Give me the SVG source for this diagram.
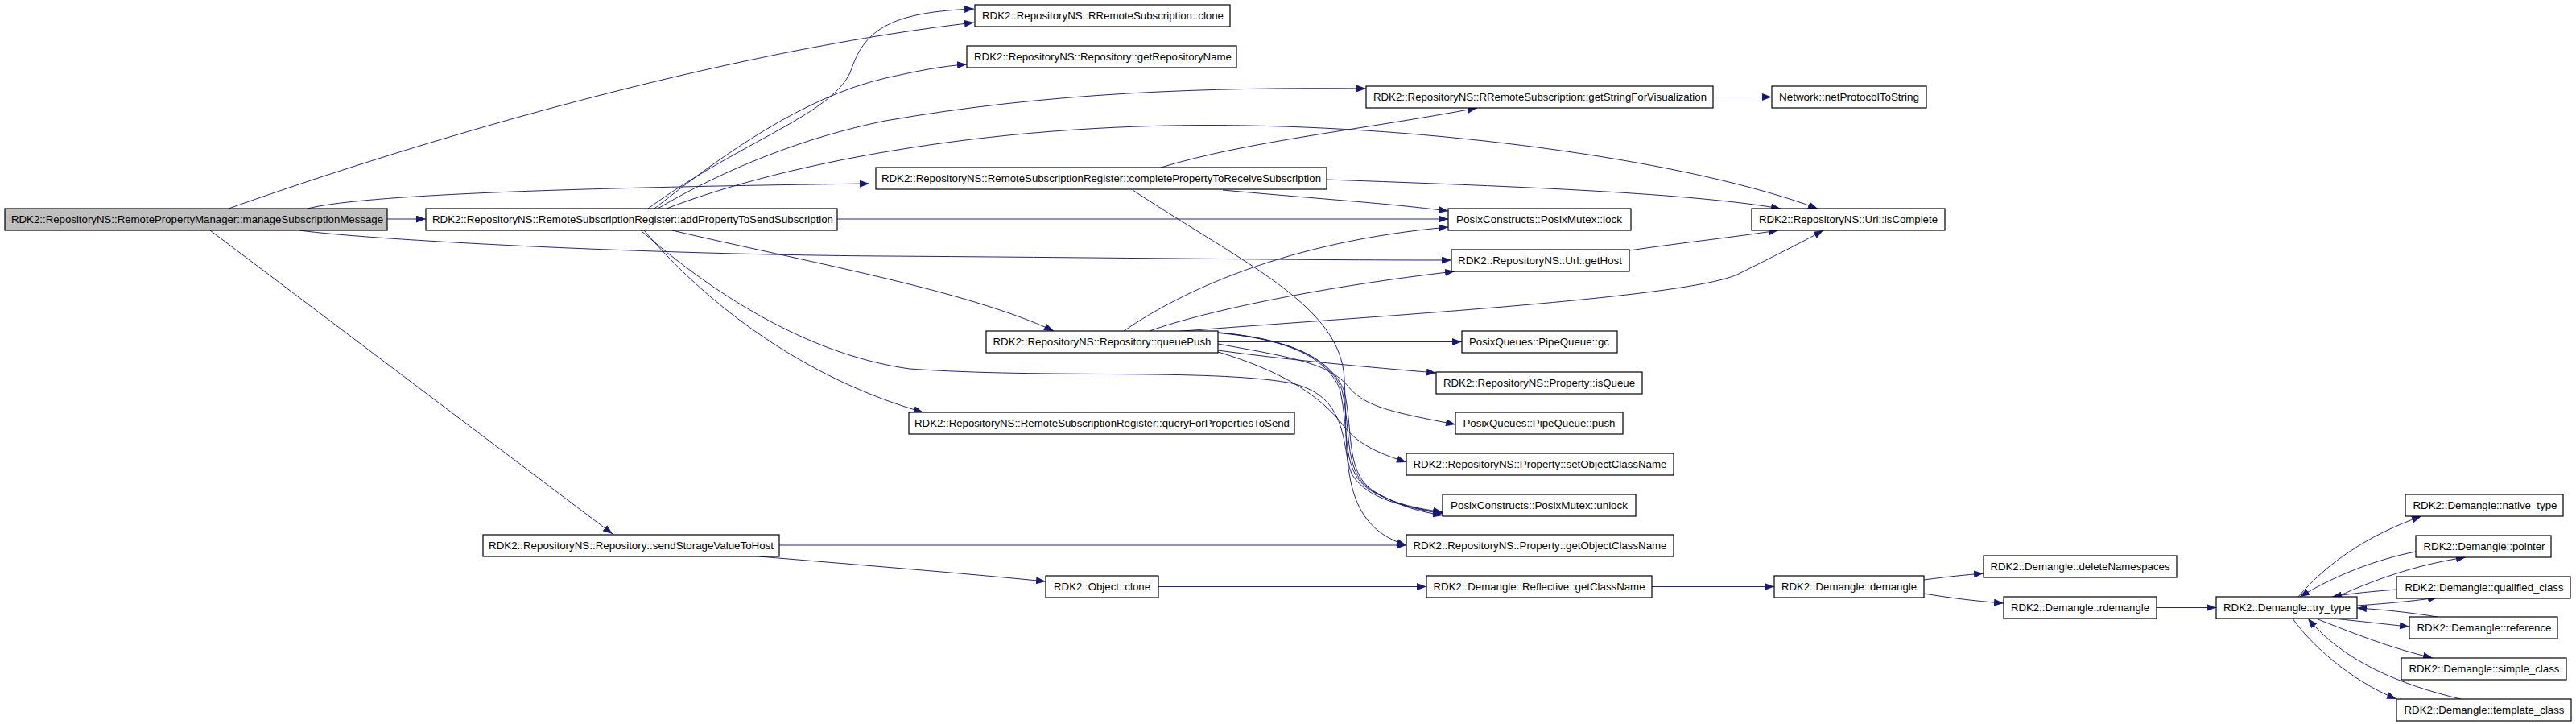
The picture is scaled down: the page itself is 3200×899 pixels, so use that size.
<svg xmlns="http://www.w3.org/2000/svg" width="3200" height="899" viewBox="0 0 3200 899">
<style>
.n rect{fill:#fff;stroke:#000;stroke-width:1.2}
.n.root rect{fill:#bfbfbf}
.n text{font-family:"Liberation Sans",Arial,sans-serif;font-size:13.5px;fill:#000;text-anchor:middle}
#edges path{fill:none;stroke:#191970;stroke-width:0.95;marker-end:url(#ah)}
</style>
<defs>
<marker id="ah" markerUnits="userSpaceOnUse" markerWidth="13" markerHeight="9" refX="12" refY="4.5" orient="auto">
<path d="M0,0 L12,4.5 L0,9 z" fill="#191970"/>
</marker>
</defs>
<rect width="3200" height="899" fill="#fff"/>
<g id="edges">
<path d="M481,272 L529,272"/>
<path d="M284,259 C450,200 850,70 1210,28"/>
<path d="M382,259 C450,242 700,233 1080,228"/>
<path d="M372,286 C460,298 800,316 1100,318 C1400,320 1600,323 1803,323"/>
<path d="M261,286 L761,663"/>
<path d="M805,259 C920,175 1040,140 1058,85 C1075,35 1110,15 1210,11"/>
<path d="M813,259 C900,190 1000,120 1100,97 C1140,88 1170,82 1201,80"/>
<path d="M817,259 C900,210 1000,170 1100,150 C1300,115 1500,108 1697,110"/>
<path d="M828,259 C980,200 1250,150 1550,156 C1800,160 2100,200 2258,259"/>
<path d="M1040,272 L1799,272"/>
<path d="M835,286 C1000,325 1200,360 1309,411"/>
<path d="M800,286 C880,380 1000,470 1147,512"/>
<path d="M796,286 C880,360 1000,440 1130,458 C1300,470 1500,458 1600,475 C1680,490 1665,560 1680,590 C1700,620 1740,628 1792,637"/>
<path d="M1442,208 C1550,175 1700,160 1835,134"/>
<path d="M1648,223 C1900,232 2100,240 2212,259"/>
<path d="M1519,236 C1650,248 1720,252 1799,262"/>
<path d="M1407,236 C1550,330 1665,380 1670,470 C1675,560 1660,650 1747,677"/>
<path d="M2024,311 C2100,300 2150,295 2209,286"/>
<path d="M2128,120.5 L2201,120.5"/>
<path d="M1396,411 C1470,360 1600,300 1799,282"/>
<path d="M1428,411 C1500,385 1650,355 1807,337"/>
<path d="M1470,411 C1700,393 2100,370 2160,340 C2200,320 2240,300 2265,286"/>
<path d="M1513,424.5 L1816,424.5"/>
<path d="M1513,435 C1600,447 1700,456 1784,463"/>
<path d="M1513,427 C1600,443 1650,450 1675,480 C1695,505 1730,512 1808,527"/>
<path d="M1513,437 C1590,460 1640,490 1670,530 C1690,555 1720,565 1747,574"/>
<path d="M1466,411 C1590,414 1645,440 1664,482 C1678,540 1664,588 1706,611 C1736,627 1760,631 1792,636"/>
<path d="M1490,411 C1600,418 1650,443 1667,484 C1680,540 1667,590 1709,612 C1739,628 1762,633 1792,638"/>
<path d="M1513,413 C1605,421 1654,446 1670,486 C1682,540 1670,592 1712,613 C1742,630 1764,635 1792,640"/>
<path d="M968,677 L1747,677"/>
<path d="M943,691 C1050,700 1200,712 1299,722"/>
<path d="M1439,728.5 L1772,728.5"/>
<path d="M2052,728.5 L2204,728.5"/>
<path d="M2390,720 C2420,716 2440,714 2464,712"/>
<path d="M2390,737 C2420,742 2450,746 2489,749"/>
<path d="M2679,754.5 L2753,754.5"/>
<path d="M2855,741 C2890,700 2940,665 3008,641"/>
<path d="M3001,685 C2950,695 2900,715 2857,741"/>
<path d="M2903,741 C2960,715 3010,700 3063,692"/>
<path d="M2977,732 C2940,735 2920,737 2897,741"/>
<path d="M2928,752 C2970,749 3000,746 3028,742"/>
<path d="M3028,766 C2990,760 2960,757 2928,755"/>
<path d="M2897,768 C2940,772 2970,776 2993,778"/>
<path d="M2877,768 C2920,785 2970,805 3022,817"/>
<path d="M3057,868 C2980,850 2910,820 2867,768"/>
<path d="M2848,768 C2870,800 2920,845 2977,868"/>
</g>
<g id="n_main" class="n root"><rect x="6" y="259" width="475" height="27"/><text x="245" y="277" textLength="462" lengthAdjust="spacingAndGlyphs">RDK2::RepositoryNS::RemotePropertyManager::manageSubscriptionMessage</text></g>
<g id="n_addProp" class="n"><rect x="529" y="259" width="511" height="27"/><text x="786" y="277" textLength="498" lengthAdjust="spacingAndGlyphs">RDK2::RepositoryNS::RemoteSubscriptionRegister::addPropertyToSendSubscription</text></g>
<g id="n_rrclone" class="n"><rect x="1211" y="6" width="317" height="27"/><text x="1370" y="24" textLength="300" lengthAdjust="spacingAndGlyphs">RDK2::RepositoryNS::RRemoteSubscription::clone</text></g>
<g id="n_getRepoName" class="n"><rect x="1201" y="57" width="335" height="27"/><text x="1370" y="75" textLength="320" lengthAdjust="spacingAndGlyphs">RDK2::RepositoryNS::Repository::getRepositoryName</text></g>
<g id="n_getString" class="n"><rect x="1697" y="107" width="431" height="27"/><text x="1913" y="125" textLength="414" lengthAdjust="spacingAndGlyphs">RDK2::RepositoryNS::RRemoteSubscription::getStringForVisualization</text></g>
<g id="n_netProto" class="n"><rect x="2201" y="107" width="192" height="27"/><text x="2297" y="125" textLength="174" lengthAdjust="spacingAndGlyphs">Network::netProtocolToString</text></g>
<g id="n_completeProp" class="n"><rect x="1088" y="208" width="560" height="27"/><text x="1368" y="226" textLength="546" lengthAdjust="spacingAndGlyphs">RDK2::RepositoryNS::RemoteSubscriptionRegister::completePropertyToReceiveSubscription</text></g>
<g id="n_lock" class="n"><rect x="1799" y="259" width="227" height="27"/><text x="1912" y="277" textLength="206" lengthAdjust="spacingAndGlyphs">PosixConstructs::PosixMutex::lock</text></g>
<g id="n_isComplete" class="n"><rect x="2176" y="259" width="240" height="27"/><text x="2296" y="277" textLength="222" lengthAdjust="spacingAndGlyphs">RDK2::RepositoryNS::Url::isComplete</text></g>
<g id="n_getHost" class="n"><rect x="1803" y="310" width="221" height="27"/><text x="1913" y="328" textLength="204" lengthAdjust="spacingAndGlyphs">RDK2::RepositoryNS::Url::getHost</text></g>
<g id="n_queuePush" class="n"><rect x="1225" y="411" width="288" height="27"/><text x="1369" y="429" textLength="271" lengthAdjust="spacingAndGlyphs">RDK2::RepositoryNS::Repository::queuePush</text></g>
<g id="n_gc" class="n"><rect x="1816" y="411" width="193" height="27"/><text x="1912" y="429" textLength="174" lengthAdjust="spacingAndGlyphs">PosixQueues::PipeQueue::gc</text></g>
<g id="n_isQueue" class="n"><rect x="1784" y="462" width="256" height="27"/><text x="1912" y="480" textLength="238" lengthAdjust="spacingAndGlyphs">RDK2::RepositoryNS::Property::isQueue</text></g>
<g id="n_queryFor" class="n"><rect x="1129" y="512" width="479" height="27"/><text x="1369" y="530" textLength="466" lengthAdjust="spacingAndGlyphs">RDK2::RepositoryNS::RemoteSubscriptionRegister::queryForPropertiesToSend</text></g>
<g id="n_push" class="n"><rect x="1808" y="512" width="208" height="27"/><text x="1912" y="530" textLength="189" lengthAdjust="spacingAndGlyphs">PosixQueues::PipeQueue::push</text></g>
<g id="n_setOCN" class="n"><rect x="1747" y="563" width="332" height="27"/><text x="1913" y="581" textLength="315" lengthAdjust="spacingAndGlyphs">RDK2::RepositoryNS::Property::setObjectClassName</text></g>
<g id="n_unlock" class="n"><rect x="1792" y="614" width="240" height="27"/><text x="1912" y="632" textLength="220" lengthAdjust="spacingAndGlyphs">PosixConstructs::PosixMutex::unlock</text></g>
<g id="n_sendStorage" class="n"><rect x="600" y="664" width="368" height="27"/><text x="784" y="682" textLength="354" lengthAdjust="spacingAndGlyphs">RDK2::RepositoryNS::Repository::sendStorageValueToHost</text></g>
<g id="n_getOCN" class="n"><rect x="1747" y="664" width="332" height="27"/><text x="1913" y="682" textLength="315" lengthAdjust="spacingAndGlyphs">RDK2::RepositoryNS::Property::getObjectClassName</text></g>
<g id="n_objClone" class="n"><rect x="1299" y="715" width="140" height="27"/><text x="1369" y="733" textLength="120" lengthAdjust="spacingAndGlyphs">RDK2::Object::clone</text></g>
<g id="n_getClassName" class="n"><rect x="1772" y="715" width="280" height="27"/><text x="1912" y="733" textLength="263" lengthAdjust="spacingAndGlyphs">RDK2::Demangle::Reflective::getClassName</text></g>
<g id="n_demangle" class="n"><rect x="2204" y="715" width="186" height="27"/><text x="2297" y="733" textLength="168" lengthAdjust="spacingAndGlyphs">RDK2::Demangle::demangle</text></g>
<g id="n_deleteNS" class="n"><rect x="2464" y="690" width="240" height="27"/><text x="2584" y="708" textLength="223" lengthAdjust="spacingAndGlyphs">RDK2::Demangle::deleteNamespaces</text></g>
<g id="n_rdemangle" class="n"><rect x="2489" y="741" width="190" height="27"/><text x="2584" y="759" textLength="172" lengthAdjust="spacingAndGlyphs">RDK2::Demangle::rdemangle</text></g>
<g id="n_tryType" class="n"><rect x="2753" y="741" width="175" height="27"/><text x="2841" y="759" textLength="158" lengthAdjust="spacingAndGlyphs">RDK2::Demangle::try_type</text></g>
<g id="n_native" class="n"><rect x="2988" y="614" width="196" height="27"/><text x="3087" y="632" textLength="179" lengthAdjust="spacingAndGlyphs">RDK2::Demangle::native_type</text></g>
<g id="n_pointer" class="n"><rect x="3001" y="665" width="168" height="27"/><text x="3086" y="683" textLength="151" lengthAdjust="spacingAndGlyphs">RDK2::Demangle::pointer</text></g>
<g id="n_qualified" class="n"><rect x="2977" y="716" width="216" height="27"/><text x="3086" y="734" textLength="197" lengthAdjust="spacingAndGlyphs">RDK2::Demangle::qualified_class</text></g>
<g id="n_reference" class="n"><rect x="2993" y="766" width="184" height="27"/><text x="3086" y="784" textLength="167" lengthAdjust="spacingAndGlyphs">RDK2::Demangle::reference</text></g>
<g id="n_simple" class="n"><rect x="2983" y="817" width="205" height="27"/><text x="3086" y="835" textLength="187" lengthAdjust="spacingAndGlyphs">RDK2::Demangle::simple_class</text></g>
<g id="n_template" class="n"><rect x="2977" y="868" width="217" height="27"/><text x="3086" y="886" textLength="199" lengthAdjust="spacingAndGlyphs">RDK2::Demangle::template_class</text></g>
</svg>
